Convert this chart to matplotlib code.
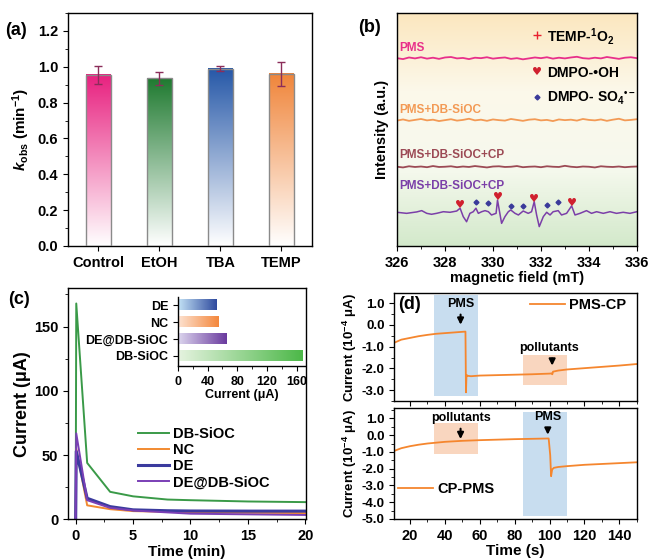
import numpy as np
import matplotlib
matplotlib.use('Agg')
import matplotlib.pyplot as plt
from matplotlib.colors import LinearSegmentedColormap
from matplotlib.ticker import MultipleLocator

plt.rcParams['font.family'] = ['Liberation Sans', 'DejaVu Sans']
plt.rcParams['font.weight'] = 'bold'
plt.rcParams['axes.labelweight'] = 'bold'
plt.rcParams['mathtext.fontset'] = 'custom'
plt.rcParams['mathtext.rm'] = 'Liberation Sans:bold'
plt.rcParams['mathtext.bf'] = 'Liberation Sans:bold'
plt.rcParams['mathtext.it'] = 'Liberation Sans:italic:bold'
plt.rcParams['mathtext.default'] = 'bf'
plt.rcParams['axes.unicode_minus'] = False
plt.rcParams['axes.linewidth'] = 1.0

# ---- (a) quenching tests ----
scavengers = ['Control', 'EtOH', 'TBA', 'TEMP']
kobs = [0.955, 0.935, 0.99, 0.96]
kobs_err = [0.05, 0.037, 0.015, 0.067]
bar_colors = ['#e8207f', '#1f7a30', '#2658a8', '#f0853a']

# ---- (b) EPR spectra ----
field = [326.00, 326.25, 326.50, 326.75, 327.00, 327.25, 327.50, 327.75, 328.00, 328.25,
         328.50, 328.75, 329.00, 329.25, 329.50, 329.75, 330.00, 330.25, 330.50, 330.75,
         331.00, 331.25, 331.50, 331.75, 332.00, 332.25, 332.50, 332.75, 333.00, 333.25,
         333.50, 333.75, 334.00, 334.25, 334.50, 334.75, 335.00, 335.25, 335.50, 335.75,
         336.00]
epr_pms = [80.6, 80.2, 80.9, 80.5, 81.0, 80.4, 80.8, 80.3, 80.9, 81.1,
           80.5, 80.7, 80.2, 80.8, 80.6, 81.0, 80.4, 80.7, 80.9, 80.3,
           80.6, 80.1, 80.5, 80.9, 80.6, 81.0, 80.4, 80.8, 80.5, 80.9,
           81.2, 80.6, 80.4, 80.8, 80.5, 81.1, 80.7, 80.3, 80.8, 81.0,
           80.6]
epr_pms_sioc = [53.8, 54.3, 53.7, 54.1, 54.5, 53.9, 54.2, 53.6, 54.0, 54.4,
                53.8, 54.1, 54.6, 53.9, 54.2, 53.7, 54.3, 54.0, 53.8, 54.5,
                54.1, 53.7, 54.2, 54.4, 53.9, 54.1, 53.6, 54.3, 54.0, 54.2,
                53.8, 54.5, 54.1, 53.9, 54.3, 53.7, 54.2, 54.6, 53.9, 54.1,
                54.4]
epr_pms_sioc_cp = [34.0, 33.7, 34.2, 33.9, 34.1, 33.8, 34.3, 33.9, 34.0, 34.2,
                   33.8, 34.1, 33.9, 34.3, 34.0, 33.7, 34.1, 34.2, 33.9, 34.0,
                   34.3, 33.8, 34.0, 34.1, 33.8, 34.2, 34.0, 33.9, 34.4, 34.0,
                   33.8, 34.1, 34.0, 33.7, 34.2, 34.0, 33.9, 34.1, 33.8, 34.0,
                   34.1]
dmpo_field = [326.0, 326.4, 326.82, 327.03, 327.24, 327.44, 327.65, 327.93, 328.21, 328.49,
              328.63, 328.76, 328.90, 329.04, 329.18, 329.29, 329.39, 329.53, 329.67, 329.81,
              329.94, 330.13, 330.19, 330.36, 330.50, 330.64, 330.74, 330.92, 331.06, 331.26,
              331.47, 331.61, 331.72, 331.82, 331.93, 332.10, 332.24, 332.38, 332.51, 332.72,
              332.86, 333.07, 333.28, 333.42, 333.63, 333.90, 334.11, 334.32, 334.60, 334.88,
              335.15, 335.43, 335.71, 336.0]
dmpo_int = [14.45, 14.0, 14.6, 15.16, 14.0, 13.6, 14.0, 14.7, 14.45, 15.0,
            16.2, 12.6, 10.4, 14.0, 14.7, 16.2, 14.0, 14.7, 15.16, 14.7,
            13.3, 14.0, 19.7, 9.7, 12.6, 14.7, 15.45, 14.0, 13.3, 15.0,
            14.0, 14.7, 19.0, 13.3, 8.3, 12.6, 14.45, 13.3, 14.7, 15.16,
            13.3, 14.0, 17.2, 13.3, 14.0, 15.16, 14.0, 14.7, 14.0, 14.7,
            14.0, 14.45, 14.0, 14.7]
oh_field = [328.63, 330.19, 331.72, 333.28]
oh_int = [17.6, 20.8, 20.3, 18.4]
so4_field = [329.29, 329.78, 330.74, 331.26, 332.24, 332.72]
so4_int = [18.7, 18.3, 17.3, 17.0, 17.6, 19.0]

# ---- (c) i-t curves ----
time_min = [0, 0.05, 1, 3, 5, 8, 10, 15, 20]
cur_dbsioc = [0, 168, 44, 21.5, 18, 15.5, 15, 14, 13.5]
cur_nc = [0, 55, 11, 8, 6.5, 6, 5.5, 5.2, 5.0]
cur_de = [0, 53, 16.5, 10, 7.5, 6.8, 6.6, 6.5, 6.5]
cur_de_dbsioc = [0, 67, 15, 9, 7, 5.5, 4.5, 4.0, 3.5]
inset_names = ['DB-SiOC', 'DE@DB-SiOC', 'NC', 'DE']
inset_vals = [168, 66, 54, 52]
inset_cols = [('#e6f3e0', '#4cb848'), ('#dcd6ee', '#6a3a9e'),
              ('#fde3d2', '#f4873c'), ('#c4e3f6', '#2e4a9e')]

# ---- (d) current response ----
t_pc = [11, 15, 20, 25, 30, 35, 40, 45, 50, 51.8, 52.1, 52.4, 53, 55, 60, 70, 80, 90,
        100, 101.3, 101.6, 102, 105, 110, 120, 130, 140, 150]
i_pc = [-0.82, -0.68, -0.6, -0.52, -0.46, -0.41, -0.38, -0.35, -0.32, -0.31, -3.1, -2.3,
        -2.34, -2.36, -2.33, -2.31, -2.29, -2.27, -2.24, -2.23, -2.27, -2.15, -2.1, -2.05,
        -1.99, -1.93, -1.87, -1.8]
t_cp = [11, 15, 20, 25, 30, 40, 50, 60, 70, 80, 90, 99.5, 100.4, 100.9, 101.5, 102.5,
        105, 110, 120, 130, 140, 150]
i_cp = [-0.94, -0.78, -0.66, -0.57, -0.5, -0.4, -0.34, -0.3, -0.27, -0.24, -0.22, -0.2,
        -1.2, -2.45, -2.05, -1.95, -1.9, -1.85, -1.77, -1.72, -1.67, -1.62]
win_a = [34, 59]
win_b = [85, 110]

fig = plt.figure(figsize=(6.5, 5.59), dpi=100)

# ================= (a) =================
ax = fig.add_axes([0.1046, 0.56, 0.3754, 0.4168])
w = 0.4
grad = np.linspace(0, 1, 256).reshape(-1, 1)
for i, (v, c) in enumerate(zip(kobs, bar_colors)):
    cm = LinearSegmentedColormap.from_list('g%d' % i, ['#ffffff', c])
    ax.imshow(grad, extent=[i - w / 2, i + w / 2, 0, v], origin='lower',
              cmap=cm, aspect='auto', zorder=2)
ax.bar(range(4), kobs, width=w, fill=False, edgecolor='#8a8a8a', lw=1, zorder=3)
ax.errorbar(range(4), kobs, yerr=kobs_err, fmt='none', ecolor='#8b2d5a',
            elinewidth=1, capsize=3, capthick=1, zorder=4)
ax.set_xlim(-0.5, 3.5)
ax.set_ylim(0, 1.3)
ax.set_xticks(range(4))
ax.set_xticklabels(scavengers, fontsize=10.5)
ax.set_yticks([0, 0.2, 0.4, 0.6, 0.8, 1.0, 1.2])
ax.yaxis.set_minor_locator(MultipleLocator(0.1))
ax.tick_params(labelsize=10.5)
ax.set_ylabel(r'$\mathit{k}_{\rm obs}$ (min$^{-1}$)', fontsize=11)
fig.text(0.008, 0.946, '(a)', fontsize=13, fontweight='bold', va='center')

# ================= (b) =================
ax = fig.add_axes([0.6108, 0.56, 0.369, 0.4168])
bg = LinearSegmentedColormap.from_list('bg', ['#d3e9cb', '#f6f9ee', '#fcf8ea', '#fbe7bf'])
ax.imshow(np.linspace(0, 1, 256).reshape(-1, 1), extent=[326, 336, 0, 100], origin='lower',
          cmap=bg, aspect='auto', zorder=0)
ax.plot(field, epr_pms, color='#e8308a', lw=1.3)
ax.plot(field, epr_pms_sioc, color='#f39a55', lw=1.3)
ax.plot(field, epr_pms_sioc_cp, color='#9c4a55', lw=1.3)
ax.plot(dmpo_field, dmpo_int, color='#7b3fa8', lw=1.1)
for x, y in zip(oh_field, oh_int):
    ax.text(x, y, '\u2665', family='DejaVu Sans', color='#d0202e', fontsize=8,
            ha='center', va='center')
ax.plot(so4_field, so4_int, ls='none', marker='D', ms=2.5, color='#3a3a9a')
ax.text(326.1, 85, 'PMS', color='#e8308a', fontsize=8.5, va='center')
ax.text(326.1, 58.4, 'PMS+DB-SiOC', color='#f39a55', fontsize=8.5, va='center')
ax.text(326.1, 39, 'PMS+DB-SiOC+CP', color='#9c4a55', fontsize=8.5, va='center')
ax.text(326.1, 25.8, 'PMS+DB-SiOC+CP', color='#7b3fa8', fontsize=8.5, va='center')
ax.plot([331.83], [90.6], ls='none', marker='+', ms=6, mew=1, color='#e8202e')
ax.text(331.83, 74.7, '\u2665', family='DejaVu Sans', color='#d0202e', fontsize=8,
        ha='center', va='center')
ax.plot([331.83], [63.9], ls='none', marker='D', ms=2.5, color='#3a3a9a')
ax.text(332.25, 90.0, 'TEMP-$^{1}$O$_2$', fontsize=10, va='center')
ax.text(332.25, 74.2, 'DMPO-\u2022OH', fontsize=10, va='center')
ax.text(332.25, 63.4, 'DMPO- SO$_4$$^{\u2022\u2212}$', fontsize=10, va='center')
ax.set_xlim(326, 336)
ax.set_ylim(0, 100)
ax.set_yticks([])
ax.set_xticks([326, 328, 330, 332, 334, 336])
ax.xaxis.set_minor_locator(MultipleLocator(1))
ax.tick_params(labelsize=10.5)
ax.set_xlabel('magnetic field (mT)', fontsize=10.5, labelpad=1)
ax.set_ylabel('Intensity (a.u.)', fontsize=10.5, labelpad=6)
fig.text(0.551, 0.95, '(b)', fontsize=13, fontweight='bold', va='center')

# ================= (c) =================
ax = fig.add_axes([0.1046, 0.0707, 0.366, 0.414])
ax.plot(time_min, cur_dbsioc, color='#3a9a48', lw=1.4, label='DB-SiOC')
ax.plot(time_min, cur_nc, color='#f28a30', lw=1.4, label='NC')
ax.plot(time_min, cur_de, color='#3b3b9e', lw=2.2, label='DE')
ax.plot(time_min, cur_de_dbsioc, color='#7a3fb5', lw=1.4, label='DE@DB-SiOC')
ax.set_xlim(-0.67, 20.05)
ax.set_ylim(0, 180)
ax.set_xticks([0, 5, 10, 15, 20])
ax.set_yticks([0, 50, 100, 150])
ax.xaxis.set_minor_locator(MultipleLocator(2.5))
ax.yaxis.set_minor_locator(MultipleLocator(25))
ax.tick_params(labelsize=10.5)
ax.set_xlabel('Time (min)', fontsize=11, labelpad=1)
ax.set_ylabel('Current (\u03bcA)', fontsize=13, labelpad=2)
ax.legend(loc='upper left', bbox_to_anchor=(0.294, 0.40), frameon=False, fontsize=10.5,
          borderpad=0, borderaxespad=0, handlelength=2.1, handletextpad=0.3,
          labelspacing=0.15)
fig.text(0.012, 0.465, '(c)', fontsize=13, fontweight='bold', va='center')

ins = fig.add_axes([0.2738, 0.3453, 0.195, 0.1234])
hg = np.linspace(0, 1, 256).reshape(1, -1)
bh = 0.6
for i, (v, (c0, c1)) in enumerate(zip(inset_vals, inset_cols)):
    cm = LinearSegmentedColormap.from_list('h%d' % i, [c0, c1])
    ins.imshow(hg, extent=[0, v, i - bh / 2, i + bh / 2], cmap=cm, aspect='auto', zorder=2)
ins.set_xlim(0, 171)
ins.set_ylim(-0.6, 3.5)
ins.set_yticks(range(4))
ins.set_yticklabels(inset_names, fontsize=9)
ins.set_xticks([0, 40, 80, 120, 160])
ins.xaxis.set_minor_locator(MultipleLocator(20))
ins.tick_params(labelsize=9)
ins.spines['top'].set_visible(False)
ins.spines['right'].set_visible(False)
ins.set_facecolor('none')
ins.set_xlabel('Current (\u03bcA)', fontsize=9, labelpad=1)

# ================= (d) =================
lc = '#f5862e'
ax1 = fig.add_axes([0.6066, 0.2826, 0.373, 0.1927])
ax2 = fig.add_axes([0.6066, 0.0716, 0.373, 0.198])
ax1.fill_between(win_a, -3.25, 1.35, color='#c8ddef', lw=0, zorder=0)
ax1.fill_between(win_b, -2.75, -1.4, color='#f9d6bf', lw=0, zorder=0)
ax1.plot(t_pc, i_pc, color=lc, lw=1.3, label='PMS-CP')
ax2.fill_between(win_a, -1.15, 0.7, color='#f9d6bf', lw=0, zorder=0)
ax2.fill_between(win_b, -4.8, 1.4, color='#c8ddef', lw=0, zorder=0)
ax2.plot(t_cp, i_cp, color=lc, lw=1.3, label='CP-PMS')

arrow = dict(arrowstyle='-|>', color='black', lw=1.5, mutation_scale=9)
ax1.annotate('', xy=(49, -0.12), xytext=(49, 0.6), arrowprops=arrow)
ax1.text(49, 0.95, 'PMS', fontsize=9, ha='center', va='center')
ax1.annotate('', xy=(101.5, -2.0), xytext=(101.5, -1.42), arrowprops=arrow)
ax1.text(100, -1.05, 'pollutants', fontsize=9, ha='center', va='center')
ax2.annotate('', xy=(49, -0.4), xytext=(49, 0.55), arrowprops=arrow)
ax2.text(49, 1.0, 'pollutants', fontsize=9, ha='center', va='center')
ax2.annotate('', xy=(99, -0.14), xytext=(99, 0.6), arrowprops=arrow)
ax2.text(99, 1.1, 'PMS', fontsize=9, ha='center', va='center')

for a in (ax1, ax2):
    a.set_xlim(11, 150)
    a.set_xticks([20, 40, 60, 80, 100, 120, 140])
    a.xaxis.set_minor_locator(MultipleLocator(10))
    a.yaxis.set_minor_locator(MultipleLocator(0.5))
    a.yaxis.set_major_formatter(matplotlib.ticker.FormatStrFormatter('%.1f'))
    a.tick_params(labelsize=9.5)
ax1.set_ylim(-3.5, 1.45)
ax1.set_yticks([1.0, 0.0, -1.0, -2.0, -3.0])
ax1.tick_params(labelbottom=False)
ax2.set_ylim(-5.0, 1.6)
ax2.set_yticks([1.0, 0.0, -1.0, -2.0, -3.0, -4.0, -5.0])
ax2.tick_params(axis='x', labelsize=10.5)
ax1.set_ylabel('Current (10$^{-4}$ \u03bcA)', fontsize=9.5, labelpad=2)
ax2.set_ylabel('Current (10$^{-4}$ \u03bcA)', fontsize=9.5, labelpad=2)
ax2.set_xlabel('Time (s)', fontsize=11, labelpad=1)
ax1.legend(loc='upper left', bbox_to_anchor=(0.56, 0.96), frameon=False, fontsize=10.5,
           borderpad=0, borderaxespad=0, handlelength=2.4, handletextpad=0.3)
ax2.legend(loc='upper left', bbox_to_anchor=(0.015, 0.33), frameon=False, fontsize=10.5,
           borderpad=0, borderaxespad=0, handlelength=2.4, handletextpad=0.3)
ax1.text(0.015, 0.9, '(d)', transform=ax1.transAxes, fontsize=13, fontweight='bold',
         va='center')

fig.savefig('out.png', dpi=100)
